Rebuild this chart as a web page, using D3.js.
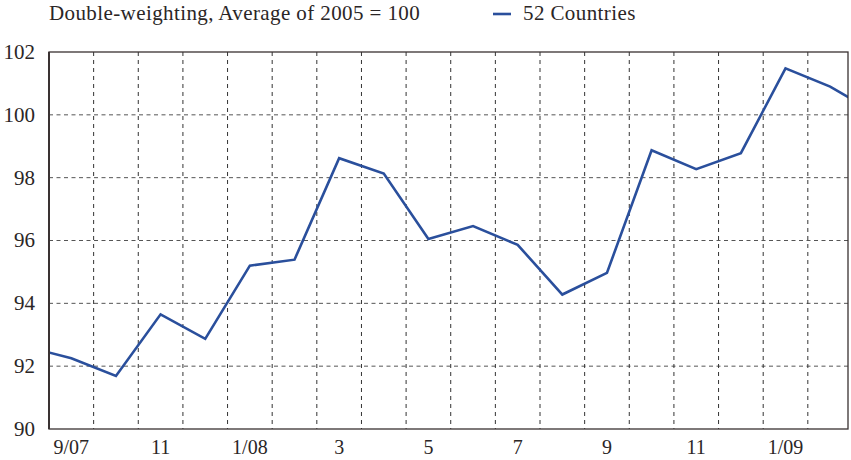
<!DOCTYPE html>
<html>
<head>
<meta charset="utf-8">
<script src="https://cdn.jsdelivr.net/npm/d3@7"></script>
<style>
  body { margin: 0; background: #fff; }
  text { font-family: "Liberation Serif", "DejaVu Serif", serif; fill: #2b2626; }
</style>
</head>
<body>
<div id="chart"></div>
<script>
var svgWidth = 851;
var svgHeight = 460;

// monthly index, first and last month sit just outside the frame
var months = ["8/07", "9/07", "10", "11", "12", "1/08", "2", "3", "4", "5", "6",
  "7", "8", "9", "10", "11", "12", "1/09", "2", "3/09"];
var values = [92.62, 92.25, 91.69, 93.65, 92.87, 95.20, 95.39, 98.62, 98.13, 96.05, 96.46,
  95.86, 94.28, 94.97, 98.87, 98.27, 98.78, 101.48, 100.90, 100.06];
var tickMonths = ["9/07", "11", "1/08", "3", "5", "7", "9", "11", "1/09"];
var yTicks = [90, 92, 94, 96, 98, 100, 102];
var seriesName = "52 Countries";
var title = "Double-weighting, Average of 2005 = 100";

var margin = { top: 52, right: 3, bottom: 31, left: 49 };
var width = svgWidth - margin.left - margin.right;
var height = svgHeight - margin.top - margin.bottom;

var svg = d3.select("#chart")
  .append("svg")
  .attr("width", svgWidth)
  .attr("height", svgHeight);

var chartGroup = svg.append("g")
  .attr("transform", `translate(${margin.left}, ${margin.top})`);

// x in month units: 9/07 band spans 0..1, frame cuts the last band short
var xScale = d3.scaleLinear()
  .domain([0, 17.9])
  .range([0, width]);

var yScale = d3.scaleLinear()
  .domain([90, 102])
  .range([height, 0]);

// centre of each month's band
var data = months.map(function (m, i) {
  return { month: m, pos: i - 0.5, value: values[i] };
});

// horizontal grid
chartGroup.append("g")
  .selectAll("line")
  .data(yTicks.slice(1, -1))
  .enter().append("line")
  .attr("x1", 0)
  .attr("x2", width)
  .attr("y1", d => yScale(d))
  .attr("y2", d => yScale(d))
  .attr("stroke", "#555")
  .attr("stroke-width", 1)
  .attr("stroke-dasharray", "4,3.5");

// vertical grid at month boundaries
chartGroup.append("g")
  .selectAll("line")
  .data(d3.range(1, 18))
  .enter().append("line")
  .attr("x1", d => xScale(d))
  .attr("x2", d => xScale(d))
  .attr("y1", 0)
  .attr("y2", height)
  .attr("stroke", "#333")
  .attr("stroke-width", 1)
  .attr("stroke-dasharray", "4,4");

svg.append("clipPath")
  .attr("id", "plotClip")
  .append("rect")
  .attr("width", width)
  .attr("height", height);

var line = d3.line()
  .x(d => xScale(d.pos))
  .y(d => yScale(d.value));

chartGroup.append("path")
  .datum(data)
  .attr("clip-path", "url(#plotClip)")
  .attr("fill", "none")
  .attr("stroke", "#2a4f9c")
  .attr("stroke-width", 2.6)
  .attr("stroke-linejoin", "miter")
  .attr("d", line);

// frame
chartGroup.append("rect")
  .attr("width", width)
  .attr("height", height)
  .attr("fill", "none")
  .attr("stroke", "#3a3232")
  .attr("stroke-width", 1.3);

chartGroup.append("line")
  .attr("x1", 0).attr("x2", 0)
  .attr("y1", 0).attr("y2", height)
  .attr("stroke", "#3a3232")
  .attr("stroke-width", 2);

// y labels
chartGroup.append("g")
  .selectAll("text")
  .data(yTicks)
  .enter().append("text")
  .attr("x", -14)
  .attr("y", d => yScale(d))
  .attr("dy", "0.33em")
  .attr("text-anchor", "end")
  .attr("font-size", "21px")
  .text(d => d);

// x labels, every other month
chartGroup.append("g")
  .selectAll("text")
  .data(data.filter((d, i) => i % 2 === 1 && i <= 17))
  .enter().append("text")
  .attr("x", d => xScale(d.pos))
  .attr("y", height + 25)
  .attr("text-anchor", "middle")
  .attr("font-size", "20px")
  .text((d, i) => tickMonths[i]);

// title and legend
svg.append("text")
  .attr("x", 49)
  .attr("y", 20)
  .attr("font-size", "21px")
  .attr("letter-spacing", "0.4px")
  .text(title);

svg.append("line")
  .attr("x1", 493).attr("x2", 511)
  .attr("y1", 14).attr("y2", 14)
  .attr("stroke", "#2a4f9c")
  .attr("stroke-width", 2.6);

svg.append("text")
  .attr("x", 523)
  .attr("y", 20)
  .attr("font-size", "21px")
  .attr("letter-spacing", "0.4px")
  .text(seriesName);
</script>
</body>
</html>
